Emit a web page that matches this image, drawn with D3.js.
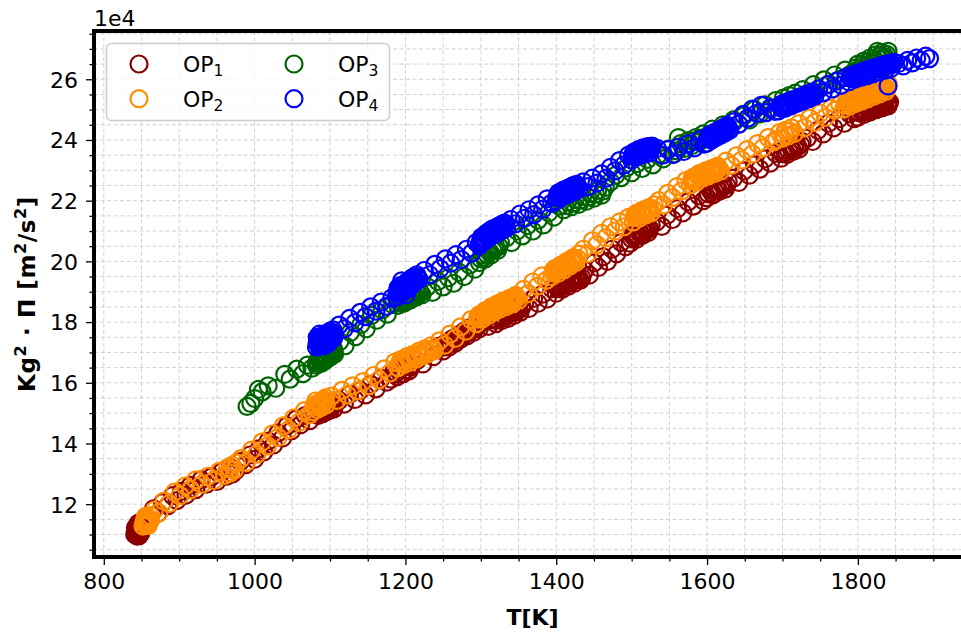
<!DOCTYPE html>
<html><head><meta charset="utf-8">
<script src="https://cdn.jsdelivr.net/npm/d3@7/dist/d3.min.js"></script>
<style>body{margin:0;background:#fff} svg{display:block;font-family:"DejaVu Sans",sans-serif}</style>
</head><body>
<svg id="c" width="961" height="635"></svg>
<script>
// ---- data (T in K, Kg^2*Pi in units of 1e4 m^2/s^2) ----
const seriesNames = ["OP1","OP2","OP3","OP4"];
const seriesColors = ["#8b0000","#ff8c00","#006400","#0000ff"];
const op1 = [[842,11.05],[844,10.95],[845,11.15],[846,11.02],[847,11.22],[844,11.30],[848,11.08],[849,11.28],[843,11.18],[846,11.38],[841,11.00],[850,11.15],[847,10.96],
[843,11.08],[845,11.25],[847,11.12],[842,11.22],[848,11.18],[845,11.00],[849,11.05],[844,11.14],
[855,11.50],[861,11.50],[866,11.85],[872,11.70],[878,12.05],[885,11.95],[891,12.28],[897,12.12],[903,12.42],[909,12.30],[915,12.62],[922,12.48],[929,12.80],[936,12.66],[943,12.90],[950,12.75],[957,13.08],[963,12.92],[968,13.20],[971,13.00],[975,13.10],[981,13.40],[988,13.30],[994,13.62],[1000,13.48],[1006,13.82],[1012,13.72],[1018,14.08],[1025,13.95],[1031,14.35],[1037,14.18],[1043,14.58],[1049,14.42],[1055,14.80],[1061,14.62],[1067,14.92],[1073,14.75],[1078,15.05],
[1084,14.92],[1087,15.18],[1090,14.98],[1092,15.28],[1095,15.05],[1097,15.32],[1100,15.10],[1102,15.36],[1105,15.14],[1088,15.05],[1094,15.20],[1099,15.25],[1104,15.30],
[1085,15.05],[1089,15.15],[1091,15.10],[1093,15.22],[1096,15.15],[1098,15.18],[1101,15.22],[1103,15.24],[1086,14.98],
[1112,15.42],[1119,15.30],[1126,15.62],[1133,15.45],[1140,15.75],[1147,15.60],[1154,15.95],[1161,15.80],[1168,16.15],[1175,16.02],
[1181,16.12],[1185,16.38],[1189,16.20],[1193,16.48],[1197,16.30],[1201,16.55],[1205,16.40],[1209,16.60],[1187,16.30],[1199,16.42],[1207,16.52],
[1216,16.74],[1223,16.62],[1230,17.00],[1237,16.86],[1244,17.20],
[1250,17.05],[1254,17.32],[1258,17.18],[1262,17.45],[1266,17.30],[1270,17.58],[1274,17.45],[1278,17.70],[1282,17.55],[1286,17.82],[1290,17.66],[1294,17.92],[1298,17.78],[1256,17.25],[1268,17.42],[1280,17.62],[1292,17.80],
[1252,17.18],[1260,17.32],[1264,17.36],[1272,17.50],[1276,17.56],[1284,17.68],[1288,17.74],[1296,17.86],
[1304,18.02],[1310,17.86],
[1316,18.12],[1320,17.95],[1324,18.20],[1328,18.05],[1332,18.30],[1336,18.12],[1340,18.40],[1344,18.22],[1348,18.48],[1352,18.32],[1322,18.08],[1334,18.22],[1346,18.36],
[1318,18.06],[1326,18.14],[1330,18.18],[1338,18.28],[1342,18.32],[1350,18.40],
[1338,18.36],[1342,18.40],[1346,18.44],[1350,18.50],[1354,18.48],
[1358,18.62],[1364,18.45],[1370,18.78],[1376,18.62],[1382,18.92],[1388,18.76],[1394,19.10],
[1400,18.95],[1404,19.22],[1408,19.08],[1412,19.32],[1416,19.18],[1420,19.42],[1424,19.28],[1428,19.52],[1432,19.38],[1406,19.15],[1418,19.30],[1430,19.45],
[1402,19.10],[1410,19.20],[1414,19.26],[1422,19.36],[1426,19.40],[1434,19.46],
[1402,19.16],[1406,19.22],[1410,19.28],[1414,19.34],[1418,19.38],[1422,19.44],[1426,19.48],
[1438,19.70],[1444,19.55],[1450,19.95],[1456,19.80],[1462,20.15],[1468,20.00],[1474,20.40],[1480,20.25],[1486,20.62],[1492,20.48],
[1498,20.60],[1502,20.88],[1506,20.72],[1510,21.00],[1514,20.85],[1518,21.10],[1522,20.95],[1526,21.20],[1504,20.80],[1512,20.92],[1520,21.02],
[1500,20.74],[1508,20.86],[1516,20.98],[1524,21.08],
[1502,20.82],[1506,20.90],[1510,20.94],[1514,21.00],[1518,21.04],[1522,21.10],
[1533,21.30],[1540,21.15],[1547,21.52],[1554,21.38],[1561,21.74],[1568,21.60],[1575,21.96],[1582,21.82],[1589,22.16],[1595,22.00],
[1600,22.10],[1604,22.36],[1608,22.20],[1612,22.45],[1616,22.30],[1620,22.55],[1624,22.38],[1628,22.62],[1606,22.28],[1618,22.40],
[1602,22.22],[1610,22.32],[1614,22.38],[1622,22.48],[1626,22.50],
[1635,22.74],[1642,22.60],[1649,22.98],[1656,22.84],[1663,23.18],[1670,23.04],[1677,23.38],[1684,23.24],[1691,23.56],
[1698,23.40],[1702,23.68],[1706,23.52],[1710,23.78],[1714,23.62],[1718,23.88],[1722,23.70],[1726,23.95],[1708,23.65],[1720,23.78],
[1700,23.55],[1704,23.60],[1712,23.70],[1716,23.75],[1724,23.85],
[1733,24.06],[1740,23.95],[1747,24.32],[1754,24.20],[1761,24.55],[1768,24.40],[1775,24.70],[1782,24.55],[1789,24.86],[1795,24.70],
[1800,24.75],[1804,25.00],[1808,24.84],[1812,25.08],[1816,24.92],[1820,25.16],[1824,25.00],[1828,25.24],[1832,25.06],[1836,25.30],[1840,25.12],[1838,25.36],[1810,24.96],[1822,25.08],[1834,25.18],[1842,25.24],
[1802,24.90],[1806,24.92],[1814,25.00],[1818,25.05],[1826,25.12],[1830,25.15],[1840,25.26],[1836,25.10],
[1804,24.96],[1808,25.00],[1812,25.04],[1816,25.08],[1820,25.12],[1824,25.16],[1828,25.20],[1832,25.24]];
const op2 = [[852,11.28],[854,11.45],[856,11.32],[858,11.55],[860,11.40],[862,11.62],[855,11.58],[859,11.30],[857,11.48],[853,11.38],
[854,11.35],[857,11.40],[860,11.52],[856,11.60],[862,11.48],
[867,11.80],[873,11.72],[880,12.10],[887,12.02],[894,12.40],[901,12.28],[908,12.60],[915,12.48],[922,12.80],[930,12.66],[938,12.92],[946,12.78],[953,13.08],
[960,12.95],[964,13.20],[967,13.02],[970,13.28],[973,13.12],[976,13.36],[968,13.15],
[982,13.50],[989,13.38],[996,13.78],[1003,13.65],[1010,14.05],[1017,13.92],[1024,14.32],[1031,14.20],[1038,14.58],[1045,14.45],[1052,14.84],[1059,14.70],[1066,15.08],[1073,14.95],
[1077,15.05],[1080,15.28],[1083,15.12],[1086,15.36],[1089,15.20],[1092,15.44],[1095,15.28],[1081,15.40],[1088,15.30],[1094,15.50],
[1078,15.20],[1082,15.26],[1085,15.30],[1087,15.24],[1090,15.36],[1093,15.40],
[1102,15.56],[1109,15.42],[1116,15.75],[1123,15.60],[1130,15.90],[1137,15.74],[1144,16.04],[1151,15.90],[1158,16.24],[1165,16.10],[1172,16.46],[1179,16.32],[1186,16.68],
[1190,16.50],[1194,16.76],[1198,16.60],[1202,16.86],[1206,16.68],[1210,16.94],[1214,16.78],[1218,17.04],[1222,16.88],[1226,17.12],[1230,16.96],[1234,17.22],[1238,17.06],[1200,16.74],[1212,16.86],[1224,16.98],[1236,17.12],
[1192,16.64],[1196,16.68],[1204,16.80],[1208,16.82],[1216,16.92],[1220,16.96],[1228,17.06],[1232,17.10],
[1245,17.38],[1252,17.24],[1259,17.60],[1266,17.46],[1273,17.84],[1280,17.70],[1287,18.08],
[1294,17.95],[1298,18.24],[1302,18.10],[1306,18.38],[1310,18.22],[1314,18.50],[1318,18.34],[1322,18.60],[1326,18.44],[1330,18.70],[1334,18.52],[1338,18.78],[1342,18.60],[1346,18.88],[1350,18.72],[1300,18.16],[1312,18.36],[1324,18.52],[1336,18.64],[1348,18.80],
[1296,18.10],[1304,18.26],[1308,18.30],[1316,18.42],[1320,18.48],[1328,18.58],[1332,18.62],[1340,18.70],[1344,18.76],
[1296,18.18],[1300,18.24],[1304,18.32],[1308,18.36],[1312,18.44],[1316,18.48],[1320,18.54],[1324,18.58],[1328,18.64],[1332,18.68],[1336,18.72],[1340,18.76],[1344,18.82],
[1357,19.08],[1363,18.94],[1369,19.32],[1375,19.18],[1381,19.52],[1387,19.38],
[1394,19.50],[1398,19.76],[1402,19.60],[1406,19.88],[1410,19.72],[1414,20.00],[1418,19.85],[1422,20.12],[1426,19.96],[1430,20.24],[1400,19.68],[1412,19.86],[1424,20.02],
[1396,19.62],[1404,19.74],[1408,19.80],[1416,19.92],[1420,19.98],[1428,20.10],
[1396,19.70],[1400,19.76],[1404,19.82],[1408,19.86],[1412,19.92],[1416,19.98],[1420,20.04],[1424,20.10],
[1436,20.40],[1442,20.26],[1448,20.68],[1454,20.55],[1460,20.92],[1466,20.78],[1472,21.14],[1478,21.00],[1484,21.30],[1490,21.14],[1496,21.45],
[1502,21.30],[1506,21.58],[1510,21.42],[1514,21.68],[1518,21.52],[1522,21.76],[1526,21.60],[1530,21.86],[1508,21.50],[1520,21.64],
[1504,21.46],[1512,21.56],[1516,21.60],[1524,21.70],[1528,21.74],
[1504,21.52],[1508,21.58],[1512,21.62],[1516,21.66],[1520,21.72],[1524,21.76],
[1536,22.00],[1542,21.86],[1548,22.24],[1554,22.10],[1560,22.46],[1566,22.32],[1572,22.66],
[1578,22.52],[1582,22.78],[1586,22.62],[1590,22.90],[1594,22.74],[1598,22.98],[1602,22.82],[1606,23.06],[1610,22.90],[1614,23.14],[1618,22.98],[1588,22.80],[1600,22.88],[1612,23.00],
[1580,22.66],[1584,22.70],[1592,22.82],[1596,22.86],[1604,22.94],[1608,22.98],[1616,23.06],
[1580,22.72],[1584,22.76],[1588,22.84],[1592,22.88],[1596,22.92],[1600,22.96],[1604,23.00],[1608,23.04],[1612,23.08],
[1625,23.30],[1632,23.16],[1639,23.48],[1646,23.34],[1653,23.68],[1660,23.54],[1667,23.88],[1674,23.74],[1681,24.08],[1688,23.94],
[1692,24.00],[1696,24.24],[1700,24.06],[1704,24.32],[1708,24.14],[1712,24.40],[1716,24.22],[1702,24.18],[1710,24.28],
[1722,24.54],[1729,24.40],[1736,24.72],[1743,24.58],[1750,24.88],[1757,24.74],[1764,25.04],[1770,24.98],[1776,25.18],
[1781,25.02],[1785,25.30],[1789,25.12],[1793,25.38],[1797,25.20],[1801,25.46],[1805,25.28],[1809,25.54],[1813,25.36],[1817,25.62],[1821,25.44],[1825,25.70],[1829,25.52],[1833,25.78],[1837,25.60],[1840,25.86],[1838,25.70],[1795,25.30],[1811,25.45],[1827,25.60],
[1783,25.15],[1787,25.20],[1791,25.24],[1799,25.32],[1803,25.36],[1807,25.40],[1815,25.48],[1819,25.52],[1823,25.56],[1831,25.64],[1835,25.68],
[1785,25.24],[1789,25.28],[1793,25.32],[1797,25.36],[1801,25.40],[1805,25.44],[1809,25.48],[1813,25.52],[1817,25.56],[1821,25.60],[1825,25.64],[1829,25.68],[1833,25.72]];
const op3 = [[990,15.22],[995,15.32],[1000,15.48],[1005,15.78],[1010,15.70],[1018,15.90],[1028,15.82],[1040,16.28],[1047,16.12],[1056,16.45],[1064,16.30],[1070,16.58],[1076,16.48],
[1082,16.58],[1085,16.78],[1088,16.64],[1091,16.88],[1094,16.74],[1097,16.98],[1100,16.84],[1103,17.08],[1106,16.94],[1086,16.92],[1092,16.70],[1098,17.05],[1104,17.15],
[1083,16.70],[1087,16.80],[1089,16.72],[1093,16.84],[1095,16.90],[1099,16.92],[1101,16.96],[1105,17.02],
[1084,16.64],[1087,16.88],[1090,16.80],[1093,16.92],[1096,16.82],[1099,17.00],[1102,16.90],[1105,17.08],
[1113,17.36],[1120,17.22],[1127,17.66],[1134,17.52],[1141,17.92],[1148,17.78],[1155,18.22],[1162,18.06],[1169,18.40],[1176,18.26],[1183,18.58],
[1190,18.55],[1194,18.76],[1198,18.62],[1202,18.86],[1206,18.72],[1210,18.96],[1214,18.82],[1218,19.04],[1222,18.90],[1200,18.80],[1212,18.90],
[1192,18.66],[1196,18.70],[1204,18.80],[1208,18.84],[1216,18.94],[1220,18.96],
[1194,18.62],[1198,18.80],[1202,18.70],[1206,18.90],[1210,18.80],[1214,18.98],
[1229,19.16],[1236,18.98],[1243,19.34],[1250,19.16],[1257,19.46],[1264,19.28],[1271,19.64],[1278,19.50],[1285,19.88],[1292,19.74],
[1298,19.96],[1302,20.22],[1306,20.08],[1310,20.36],[1314,20.22],[1318,20.52],[1322,20.36],[1326,20.62],[1304,20.14],[1316,20.36],
[1300,20.08],[1308,20.24],[1312,20.30],[1320,20.44],[1324,20.50],
[1334,20.78],[1341,20.62],[1348,21.00],[1355,20.84],[1362,21.18],[1369,21.00],[1376,21.36],[1383,21.20],[1390,21.60],[1397,21.46],[1404,21.82],
[1410,21.70],[1415,21.96],[1420,21.80],[1425,22.04],[1430,21.88],[1435,22.14],[1440,21.98],[1445,22.24],[1450,22.08],[1455,22.34],[1460,22.18],[1465,22.44],
[1412,21.84],[1422,21.92],[1432,22.02],[1442,22.12],[1452,22.22],[1462,22.32],
[1472,22.62],[1479,22.84],[1486,22.76],[1493,23.08],[1500,22.92],[1507,23.22],[1514,23.06],[1521,23.36],[1528,23.18],[1535,23.50],[1542,23.38],[1549,23.70],[1556,23.54],[1562,24.08],
[1560,23.64],[1565,23.88],[1570,23.72],[1575,23.98],[1580,23.82],[1585,24.08],[1590,23.94],[1595,24.20],[1600,24.06],
[1562,23.76],[1572,23.86],[1582,23.96],[1592,24.06],
[1607,24.36],[1614,24.22],[1621,24.50],[1628,24.36],[1635,24.66],[1642,24.52],[1649,24.80],[1656,24.66],[1663,25.00],[1670,24.86],[1677,25.16],[1684,25.02],[1691,25.30],
[1697,25.14],[1701,25.38],[1705,25.22],[1709,25.46],[1713,25.30],[1717,25.54],[1721,25.40],
[1727,25.66],[1734,25.52],[1741,25.82],[1748,25.68],[1755,25.98],[1762,25.84],[1769,26.14],[1776,26.00],[1783,26.30],[1790,26.16],
[1796,26.26],[1800,26.50],[1804,26.36],[1808,26.60],[1812,26.46],[1816,26.70],[1820,26.56],[1824,26.80],[1828,26.66],[1832,26.88],[1836,26.74],[1840,26.92],[1826,26.92],[1834,26.70],
[1798,26.38],[1806,26.48],[1814,26.58],[1822,26.66],[1830,26.76],[1838,26.82]];
const op4 = [[1082,17.18],[1084,17.40],[1086,17.25],[1088,17.50],[1090,17.32],[1092,17.58],[1094,17.40],[1096,17.64],[1098,17.46],[1100,17.70],[1102,17.52],[1104,17.74],[1106,17.58],[1086,17.60],[1092,17.22],[1098,17.30],[1083,17.50],
[1083,17.30],[1085,17.36],[1087,17.42],[1089,17.38],[1091,17.48],[1093,17.44],[1095,17.54],[1097,17.48],[1099,17.60],[1101,17.56],[1103,17.64],[1105,17.62],[1088,17.24],[1096,17.36],
[1084,17.46],[1087,17.34],[1090,17.54],[1093,17.36],[1096,17.58],[1099,17.40],[1102,17.66],[1105,17.48],[1085,17.22],[1100,17.46],
[1112,17.90],[1119,17.78],[1126,18.12],[1133,17.98],[1140,18.32],[1147,18.18],[1154,18.50],[1161,18.36],[1168,18.66],[1175,18.52],[1182,18.80],
[1188,18.82],[1191,19.08],[1194,18.94],[1197,19.22],[1200,19.06],[1203,19.34],[1206,19.18],[1209,19.46],[1212,19.30],[1215,19.56],[1218,19.40],[1195,19.36],[1201,18.90],[1190,19.12],[1208,19.28],
[1189,18.96],[1192,19.00],[1196,19.10],[1199,19.14],[1202,19.20],[1205,19.26],[1207,19.32],[1210,19.38],[1213,19.42],[1216,19.48],[1193,19.20],[1204,19.10],
[1190,19.02],[1193,19.10],[1196,19.18],[1199,19.26],[1202,19.30],[1205,19.36],[1208,19.40],[1211,19.48],[1214,19.36],[1217,19.44],
[1225,19.70],[1232,19.56],[1239,19.90],[1246,19.76],[1253,20.08],[1260,19.94],[1267,20.22],[1274,20.06],[1281,20.40],[1288,20.28],[1294,20.62],
[1298,20.52],[1301,20.80],[1304,20.66],[1307,20.92],[1310,20.76],[1313,21.02],[1316,20.86],[1319,21.10],[1322,20.94],[1325,21.18],[1328,21.02],[1331,21.26],[1334,21.10],[1300,20.64],[1312,20.90],[1324,21.04],
[1299,20.60],[1302,20.72],[1305,20.78],[1308,20.84],[1311,20.88],[1314,20.94],[1317,20.98],[1320,21.02],[1323,21.06],[1326,21.10],[1329,21.14],[1332,21.18],
[1300,20.72],[1303,20.80],[1306,20.86],[1309,20.94],[1312,21.00],[1315,21.06],[1318,21.04],[1321,21.12],[1324,21.16],[1327,21.20],[1330,21.08],[1333,21.24],
[1340,21.38],[1346,21.24],[1352,21.56],[1358,21.42],[1364,21.70],[1370,21.54],[1376,21.86],[1382,21.72],[1388,22.06],[1394,21.92],
[1400,22.00],[1403,22.26],[1406,22.10],[1409,22.34],[1412,22.18],[1415,22.40],[1418,22.24],[1421,22.48],[1424,22.30],[1427,22.54],[1430,22.38],[1408,22.22],[1420,22.34],
[1401,22.12],[1404,22.18],[1407,22.22],[1410,22.26],[1413,22.30],[1416,22.32],[1419,22.36],[1422,22.40],[1425,22.44],[1428,22.46],
[1402,22.20],[1405,22.26],[1408,22.30],[1411,22.36],[1414,22.38],[1417,22.42],[1420,22.44],[1423,22.50],[1426,22.48],
[1436,22.62],[1442,22.46],[1448,22.74],[1454,22.58],[1460,22.88],[1466,22.74],[1472,23.10],[1478,22.98],[1484,23.32],[1490,23.18],[1496,23.50],
[1500,23.34],[1503,23.60],[1506,23.44],[1509,23.68],[1512,23.50],[1515,23.74],[1518,23.54],[1521,23.78],[1524,23.58],[1527,23.80],[1508,23.56],[1520,23.66],
[1501,23.46],[1504,23.52],[1507,23.56],[1510,23.60],[1513,23.62],[1516,23.66],[1519,23.68],[1522,23.70],[1525,23.72],
[1502,23.54],[1505,23.60],[1508,23.64],[1511,23.66],[1514,23.70],[1517,23.72],[1520,23.74],[1523,23.76],[1526,23.76],
[1534,23.72],[1541,23.50],[1548,23.68],[1555,23.52],[1562,23.76],[1569,23.62],[1576,23.88],[1583,23.74],[1590,24.00],[1596,23.86],
[1600,23.90],[1603,24.16],[1606,24.00],[1609,24.24],[1612,24.08],[1615,24.32],[1618,24.16],[1621,24.40],[1624,24.24],[1627,24.48],[1630,24.32],[1610,24.12],[1622,24.30],
[1601,24.04],[1604,24.08],[1607,24.12],[1610,24.16],[1613,24.20],[1616,24.24],[1619,24.28],[1622,24.32],[1625,24.36],[1628,24.40],
[1602,24.10],[1605,24.16],[1608,24.20],[1611,24.24],[1614,24.28],[1617,24.32],[1620,24.36],[1623,24.40],[1626,24.42],
[1636,24.60],[1642,24.52],[1648,24.84],[1654,24.72],[1660,25.02],[1666,24.88],[1672,25.14],[1678,24.90],[1684,25.06],[1690,24.94],
[1695,24.96],[1699,25.18],[1703,25.04],[1707,25.26],[1711,25.12],[1715,25.34],[1719,25.20],[1723,25.42],[1727,25.28],[1731,25.50],[1735,25.36],[1739,25.58],[1743,25.44],[1705,25.14],[1717,25.28],[1729,25.40],[1741,25.50],
[1697,25.10],[1701,25.12],[1705,25.18],[1709,25.22],[1713,25.24],[1717,25.30],[1721,25.34],[1725,25.36],[1729,25.42],[1733,25.46],[1737,25.48],
[1699,25.04],[1703,25.10],[1707,25.14],[1711,25.18],[1715,25.22],[1719,25.26],[1723,25.30],[1727,25.34],[1731,25.36],[1735,25.42],[1739,25.44],
[1748,25.68],[1754,25.56],[1760,25.82],[1766,25.68],[1772,25.94],[1778,25.80],[1784,26.06],
[1788,25.92],[1792,26.14],[1796,26.00],[1800,26.20],[1804,26.06],[1808,26.28],[1812,26.12],[1816,26.34],[1820,26.18],[1824,26.40],[1828,26.24],[1832,26.46],[1836,26.30],[1840,26.52],[1844,26.36],[1848,26.56],[1840,25.78],[1798,26.10],[1814,26.22],[1830,26.36],
[1790,26.04],[1794,26.06],[1798,26.12],[1802,26.14],[1806,26.18],[1810,26.22],[1814,26.26],[1818,26.28],[1822,26.32],[1826,26.34],[1830,26.40],[1834,26.42],[1838,26.46],[1842,26.48],[1846,26.50],
[1792,26.02],[1796,26.06],[1800,26.14],[1804,26.20],[1808,26.22],[1812,26.26],[1816,26.30],[1820,26.32],[1824,26.36],[1828,26.38],[1832,26.40],[1836,26.44],[1840,26.46],[1844,26.48],
[1854,26.52],[1860,26.44],[1866,26.62],[1872,26.54],[1878,26.70],[1884,26.62],[1890,26.76],[1895,26.68]];
const xTicks = [800,1000,1200,1400,1600,1800];
const yTicks = [12,14,16,18,20,22,24,26];
const xMinorTicks = [850,900,950,1050,1100,1150,1250,1300,1350,1450,1500,1550,1650,1700,1750,1850,1900];
const yMinorTicks = [10.5,11,11.5,12.5,13,13.5,14.5,15,15.5,16.5,17,17.5,18.5,19,19.5,20.5,21,21.5,22.5,23,23.5,24.5,25,25.5,26.5,27,27.5];

// ---- layout ----
const L=94, R=971, T=31, B=557;
const svg = d3.select("#c");
svg.append("rect").attr("width",961).attr("height",635).attr("fill","#fff");
const x = d3.scaleLinear().domain([787,1950]).range([L,R]);
const y = d3.scaleLinear().domain([10.26,27.59]).range([B,T]);

// grid
const grid = svg.append("g").attr("stroke","#d2d2d2").attr("stroke-width",1).attr("stroke-dasharray","4,2.5");
xTicks.concat(xMinorTicks).forEach(v=>grid.append("line").attr("x1",x(v)).attr("x2",x(v)).attr("y1",T).attr("y2",B));
yTicks.concat(yMinorTicks).forEach(v=>grid.append("line").attr("y1",y(v)).attr("y2",y(v)).attr("x1",L).attr("x2",R));

// markers
svg.append("clipPath").attr("id","clip").append("rect").attr("x",L).attr("y",T).attr("width",R-L).attr("height",B-T);
const plot = svg.append("g").attr("clip-path","url(#clip)");
[op1,op2,op3,op4].forEach((data,i)=>{
  plot.append("g").selectAll("circle").data(data).join("circle")
    .attr("cx",d=>x(d[0])).attr("cy",d=>y(d[1])).attr("r",8.5)
    .attr("fill","none").attr("stroke",seriesColors[i]).attr("stroke-width",2.2);
});

// axes
const fs = 22;
const xa = svg.append("g").attr("transform",`translate(0,${B})`)
  .call(d3.axisBottom(x).tickValues(xTicks).tickSize(8).tickPadding(8).tickFormat(d3.format("d")));
const xm = svg.append("g").attr("transform",`translate(0,${B})`)
  .call(d3.axisBottom(x).tickValues(xMinorTicks).tickSize(4.5).tickFormat(""));
const ya = svg.append("g").attr("transform",`translate(${L},0)`)
  .call(d3.axisLeft(y).tickValues(yTicks).tickSize(8).tickPadding(8).tickFormat(d3.format("d")));
const ym = svg.append("g").attr("transform",`translate(${L},0)`)
  .call(d3.axisLeft(y).tickValues(yMinorTicks).tickSize(4.5).tickFormat(""));
[xa,xm,ya,ym].forEach(g=>{g.select(".domain").remove();
  g.selectAll("line").attr("stroke","#000").attr("stroke-width",1.3);
  g.selectAll("text").attr("font-size",fs).attr("font-family","DejaVu Sans").attr("fill","#000");});
ya.selectAll("text").attr("dy","0.36em");

// spines
const sp = svg.append("g").attr("stroke","#000").attr("stroke-width",4).attr("stroke-linecap","square");
sp.append("line").attr("x1",L).attr("x2",L).attr("y1",T).attr("y2",B);
sp.append("line").attr("x1",L).attr("x2",R).attr("y1",B).attr("y2",B);
sp.append("line").attr("x1",L).attr("x2",R).attr("y1",T).attr("y2",T);
sp.append("line").attr("x1",R).attr("x2",R).attr("y1",T).attr("y2",B);

// offset text
svg.append("text").attr("x",94).attr("y",26).attr("font-size",fs).text("1e4");

// axis labels
svg.append("text").attr("x",(L+R)/2).attr("y",625).attr("text-anchor","middle")
  .attr("font-size",fs).attr("font-weight","bold").text("T[K]");
const yl = svg.append("text").attr("transform",`translate(35,${(T+B)/2}) rotate(-90)`)
  .attr("text-anchor","middle").attr("font-size",23).attr("font-weight","bold").attr("letter-spacing",0.6);
yl.append("tspan").text("Kg");
yl.append("tspan").attr("dy",-9).attr("font-size",16).text("2");
yl.append("tspan").attr("dy",9).text(" \u00B7 \u03A0 [m");
yl.append("tspan").attr("dy",-9).attr("font-size",16).text("2");
yl.append("tspan").attr("dy",9).text("/s");
yl.append("tspan").attr("dy",-9).attr("font-size",16).text("2");
yl.append("tspan").attr("dy",9).text("]");

// legend
const lg = svg.append("g");
lg.append("rect").attr("x",106.5).attr("y",43.5).attr("width",283).attr("height",77).attr("rx",5)
  .attr("fill","#fff").attr("fill-opacity",0.8).attr("stroke","#cccccc").attr("stroke-width",1.5);
const legPos = [[139,64,183],[139,98.7,183],[294,64,338],[294,98.7,338]];
seriesNames.forEach((n,i)=>{
  const p = legPos[i];
  lg.append("circle").attr("cx",p[0]).attr("cy",p[1]).attr("r",8.5).attr("fill","none")
    .attr("stroke",seriesColors[i]).attr("stroke-width",2.2);
  const t = lg.append("text").attr("x",p[2]).attr("y",p[1]+8.3).attr("font-size",fs);
  t.append("tspan").text(n.slice(0,2));
  t.append("tspan").attr("dy",3.5).attr("font-size",15.5).text(n.slice(2));
});
</script>
</body></html>
